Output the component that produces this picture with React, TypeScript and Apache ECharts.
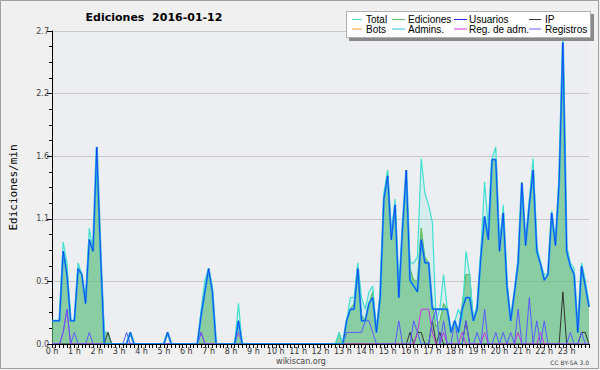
import { useEffect, useRef } from "react";
import * as echarts from "echarts";

// 10-minute steps, 145 points (0:00 .. 24:00), values in edits/min
const hourLabels = ["0 h","1 h","2 h","3 h","4 h","5 h","6 h","7 h","8 h","9 h","10 h","11 h","12 h","13 h","14 h","15 h","16 h","17 h","18 h","19 h","20 h","21 h","22 h","23 h"];

const total = [
  0.2,0.2,0.2,0.88,0.7,0.2,
  0.2,0.7,0.6,0.35,1.0,0.8,
  1.6,0.8,0.1,0.1,0,0,
  0,0,0,0,0,0,
  0,0,0,0,0,0,
  0,0,0,0,0,0,
  0,0,0,0,0.3,0.55,
  0.65,0.5,0,0,0,0,
  0,0,0.35,0,0,0,
  0,0,0,0,0,0,
  0,0,0,0,0,0,
  0,0,0,0,0,0,
  0,0,0,0,0,0.1,
  0,0.2,0.4,0.4,0.7,0.4,
  0.3,0.45,0.5,0.1,0.45,1.3,
  1.5,0.95,1.25,0.45,1.0,1.4,
  0.7,0.7,0.75,1.6,1.3,1.2,
  1.05,0.2,0.3,0.6,0.3,0.1,
  0.2,0.3,0.2,0.8,0.6,0.2,
  0.35,0.8,1.4,1.0,1.6,1.7,
  0.85,1.2,0.55,0.2,0.45,0.75,
  1.4,0.85,1.25,1.6,0.85,0.7,
  0.6,0.6,1.15,0.85,1.45,2.68,
  0.85,0.7,0.65,0.1,0.7,0.55,
  0.35,
];

const ediciones = [
  0.2,0.2,0.2,0.8,0.65,0.2,
  0.2,0.65,0.6,0.35,0.9,0.8,
  1.5,0.8,0.1,0.1,0,0,
  0,0,0,0,0,0,
  0,0,0,0,0,0,
  0,0,0,0,0,0,
  0,0,0,0,0.25,0.45,
  0.65,0.45,0,0,0,0,
  0,0,0.2,0,0,0,
  0,0,0,0,0,0,
  0,0,0,0,0,0,
  0,0,0,0,0,0,
  0,0,0,0,0,0.1,
  0,0.2,0.3,0.35,0.65,0.25,
  0.2,0.35,0.45,0.1,0.4,1.25,
  1.5,0.9,1.2,0.45,1.0,1.5,
  0.65,0.55,0.55,1.0,0.75,0.7,
  0.35,0.15,0.2,0.35,0.3,0.1,
  0.2,0.1,0.35,0.6,0.6,0.2,
  0.3,0.75,1.1,0.9,1.59,1.59,
  0.8,1.13,0.5,0.2,0.45,0.7,
  1.39,0.85,1.2,1.5,0.8,0.69,
  0.55,0.6,1.13,0.85,1.4,2.6,
  0.85,0.67,0.6,0.1,0.67,0.5,
  0.32,
];

const usuarios = [
  0.2,0.2,0.2,0.8,0.6,0.2,
  0.2,0.65,0.6,0.35,0.9,0.8,
  1.7,0.8,0,0,0,0,
  0,0,0,0.1,0,0,
  0,0,0,0,0,0,
  0,0.1,0,0,0,0,
  0,0,0,0,0.25,0.45,
  0.65,0.45,0,0,0,0,
  0,0,0.2,0,0,0,
  0,0,0,0,0,0,
  0,0,0,0,0,0,
  0,0,0,0,0,0,
  0,0,0,0,0,0,
  0,0.2,0.3,0.3,0.65,0.2,
  0.2,0.35,0.4,0.1,0.4,1.25,
  1.45,0.9,1.2,0.4,1.0,1.5,
  0.55,0.5,0.45,0.9,0.7,0.7,
  0.3,0.3,0.3,0.3,0.3,0.1,
  0.2,0.1,0.3,0.4,0.4,0.2,
  0.3,0.75,1.1,0.9,1.59,1.59,
  0.8,1.13,0.5,0.2,0.44,0.7,
  1.39,0.85,1.2,1.5,0.8,0.69,
  0.55,0.6,1.13,0.85,1.4,2.6,
  0.8,0.67,0.6,0.1,0.67,0.5,
  0.32,
];

const ip = [
  0,0,0,0,0,0,
  0,0,0,0,0,0,
  0,0,0,0.1,0,0,
  0,0,0,0,0,0,
  0,0,0,0,0,0,
  0,0,0,0,0,0,
  0,0,0,0,0,0,
  0,0,0,0,0,0,
  0,0,0,0,0,0,
  0,0,0,0,0,0,
  0,0,0,0,0,0,
  0,0,0,0,0,0,
  0,0,0,0,0,0,
  0,0,0,0,0,0,
  0,0,0,0,0,0,
  0,0,0,0,0,0,
  0.1,0,0.1,0.1,0,0,
  0.2,0,0.1,0,0,0,
  0,0,0,0.2,0,0,
  0,0,0,0,0,0,
  0,0,0,0,0,0,
  0,0,0,0,0,0,
  0,0,0,0,0,0.45,
  0,0,0,0,0.1,0.1,
  0,
];

const bots = [
  0,0,0,0,0,0, 0,0,0,0,0,0, 0,0,0,0,0,0, 0,0,0,0,0,0,
  0,0,0,0,0,0, 0,0,0,0,0,0, 0,0,0,0,0,0, 0,0,0,0,0,0,
  0,0,0,0,0,0, 0,0,0,0,0,0, 0,0,0,0,0,0, 0,0,0,0,0,0,
  0,0,0,0,0,0, 0,0,0,0,0,0, 0,0,0,0,0,0, 0,0,0,0,0,0,
  0,0,0,0,0,0, 0,0,0,0,0,0, 0,0,0,0,0,0, 0,0,0,0,0,0,
  0,0,0,0,0,0, 0,0,0,0,0,0, 0,0,0,0,0,0, 0,0,0,0,0,0,
  0,
];

const admins = [
  0,0,0,0,0,0, 0,0,0,0,0,0, 0,0,0,0,0,0, 0,0,0,0,0,0,
  0,0,0,0,0,0, 0,0,0,0,0,0, 0,0,0,0,0,0, 0,0,0,0,0,0,
  0,0,0,0,0,0, 0,0,0,0,0,0, 0,0,0,0,0,0, 0,0,0,0,0,0,
  0,0,0,0,0,0, 0,0,0,0,0,0, 0,0,0,0,0,0, 0,0,0,0,0,0,
  0,0,0,0,0,0, 0,0,0,0,0,0, 0,0,0,0,0,0, 0,0,0,0,0,0,
  0,0,0,0,0,0, 0,0,0,0,0,0, 0,0,0,0,0,0, 0,0,0,0,0,0,
  0,
];

const regAdm = [
  0,0,0,0.1,0.3,0,
  0,0,0,0,0,0,
  0,0,0,0,0,0,
  0,0,0,0,0,0,
  0,0,0,0,0,0,
  0,0,0,0,0,0,
  0,0,0,0,0.1,0,
  0,0,0,0,0,0,
  0,0,0.1,0,0,0,
  0,0,0,0,0,0,
  0,0,0,0,0,0,
  0,0,0,0,0,0,
  0,0,0,0,0,0,
  0,0,0,0,0,0,
  0,0,0,0,0,0,
  0,0,0,0,0,0,
  0,0,0.1,0.3,0.3,0.3,
  0.1,0,0,0.1,0,0,
  0,0,0.1,0,0,0,
  0,0,0.1,0,0,0,
  0,0,0,0,0,0.1,
  0,0,0,0,0,0.1,
  0,0,0,0,0,0,
  0,0,0,0,0,0,
  0,
];

const registros = [
  0,0,0,0.1,0.3,0,
  0.1,0,0,0,0.1,0,
  0,0,0,0,0,0,
  0,0,0.1,0,0,0,
  0,0,0,0,0,0,
  0,0,0,0,0,0,
  0,0,0,0,0.1,0,
  0,0,0,0,0,0,
  0,0,0,0,0,0,
  0,0,0,0,0,0,
  0,0,0,0,0,0,
  0,0,0,0,0,0,
  0,0,0,0,0,0,
  0,0.1,0.1,0.1,0.1,0.1,
  0.2,0.2,0.1,0,0,0,
  0,0,0,0.2,0,0,
  0,0.2,0.1,0,0,0,
  0.2,0.3,0,0.2,0,0,
  0.2,0,0,0.2,0,0,
  0.1,0,0.3,0,0,0.1,
  0,0.1,0,0.1,0,0.3,
  0,0,0.4,0,0.2,0,
  0.2,0,0,0,0,0,
  0,0.1,0,0,0.1,0,
  0,
];

const legendItems = [
  { name: "Total", color: "#40e0d0", col: 0, row: 0 },
  { name: "Ediciones", color: "#60c060", col: 1, row: 0 },
  { name: "Usuarios", color: "#2020ff", col: 2, row: 0 },
  { name: "IP", color: "#333333", col: 3, row: 0 },
  { name: "Bots", color: "#ff9933", col: 0, row: 1 },
  { name: "Admins.", color: "#30c0e0", col: 1, row: 1 },
  { name: "Reg. de adm.", color: "#cc33dd", col: 2, row: 1 },
  { name: "Registros", color: "#6060ff", col: 3, row: 1 },
];

const toPairs = (arr: number[]) => arr.map((v, i) => [i, v]);

export default function App() {
  const ref = useRef<HTMLDivElement>(null);

  useEffect(() => {
    if (!ref.current) return;
    const chart = echarts.init(ref.current, null, { renderer: "svg" });

    const lineX = [352, 392, 454, 529];
    const lineW = [10, 13, 13, 12];
    const textX = [366, 408, 469, 545];
    const rowY = [19.5, 29];

    const legendGraphics: any[] = [
      { type: "rect", shape: { x: 349, y: 14, width: 245, height: 27 }, style: { fill: "#8a8a8a" }, z: 100 },
      { type: "rect", shape: { x: 346.5, y: 11.5, width: 244, height: 26 }, style: { fill: "#ffffff", stroke: "#b0b0b0", lineWidth: 1 }, z: 101 },
    ];
    legendItems.forEach((it) => {
      const y = rowY[it.row];
      legendGraphics.push({
        type: "line",
        shape: { x1: lineX[it.col], y1: y, x2: lineX[it.col] + lineW[it.col], y2: y },
        style: { stroke: it.color, lineWidth: 1 },
        z: 102,
      });
      legendGraphics.push({
        type: "text",
        x: textX[it.col],
        y,
        style: { text: it.name, fill: "#000", font: "10px 'Liberation Sans', Arial, sans-serif", verticalAlign: "middle", align: "left" },
        z: 102,
      });
    });

    const mkLine = (name: string, data: number[], color: string, width: number, area?: string, z = 2) => ({
      name,
      type: "line",
      data: toPairs(data),
      showSymbol: false,
      symbol: "none",
      z,
      lineStyle: { color, width },
      itemStyle: { color },
      areaStyle: area ? { color: area, opacity: 1 } : undefined,
      emphasis: { disabled: true },
    });

    chart.setOption({
      animation: false,
      backgroundColor: "#f0f0f0",
      grid: {
        left: 46,
        right: 11,
        top: 31,
        bottom: 26,
        show: true,
        backgroundColor: "#eceef1",
        borderWidth: 0,
      },
      xAxis: {
        type: "value",
        min: 0,
        max: 144,
        interval: 6,
        z: 10,
        axisLine: { show: true, lineStyle: { color: "#000", width: 1 } },
        axisTick: { show: true, length: 4, lineStyle: { color: "#000" } },
        minorTick: { show: true, splitNumber: 6, length: 4, lineStyle: { color: "#000" } },
        splitLine: { show: false },
        axisLabel: {
          margin: 3,
          fontSize: 8,
          fontFamily: "DejaVu Sans",
          color: "#333",
          formatter: (v: number) => hourLabels[v / 6] ?? "",
        },
      },
      yAxis: {
        type: "value",
        min: 0,
        max: 2.7,
        interval: 0.54,
        name: "Ediciones/min",
        nameLocation: "middle",
        nameGap: 33,
        nameRotate: 90,
        nameTextStyle: { fontFamily: "DejaVu Sans Mono", fontSize: 11, color: "#000" },
        axisLine: { show: true, lineStyle: { color: "#000", width: 1 } },
        axisTick: { show: true, length: 5, lineStyle: { color: "#000" } },
        minorTick: { show: true, splitNumber: 4, length: 3, lineStyle: { color: "#000" } },
        splitLine: { show: true, lineStyle: { color: "#c8c8c8", width: 1 } },
        axisLabel: {
          margin: 3,
          fontSize: 8,
          fontFamily: "DejaVu Sans",
          color: "#444",
          formatter: (v: number) => v.toFixed(1),
        },
      },
      series: [
        mkLine("Ediciones", ediciones, "#50b850", 1, "rgba(90,180,100,0.6)"),
        mkLine("Total", total, "#40e0d0", 1.2, "rgba(64,224,208,0.12)"),
        mkLine("Bots", bots, "#ff9933", 1),
        mkLine("Admins.", admins, "#30c0e0", 1),
        mkLine("IP", ip, "#333333", 1),
        mkLine("Reg. de adm.", regAdm, "#cc33dd", 1),
        mkLine("Registros", registros, "#5a5aff", 1),
        mkLine("Usuarios-halo", usuarios, "#2ab6dc", 2.2),
        mkLine("Usuarios", usuarios, "#1030ff", 0.8),
      ],
      graphic: [
        { type: "rect", shape: { x: 0.5, y: 0.5, width: 598, height: 368 }, style: { fill: "none", stroke: "#a0a0a0", lineWidth: 1 }, z: 50 },
        {
          type: "text",
          x: 154,
          y: 17,
          style: { text: "Ediciones  2016-01-12", fill: "#000", font: "bold 11px 'DejaVu Sans', sans-serif", align: "center", verticalAlign: "middle" },
          z: 50,
        },
        {
          type: "text",
          x: 301,
          y: 361.5,
          style: { text: "wikiscan.org", fill: "#444", font: "8px 'DejaVu Sans', sans-serif", align: "center", verticalAlign: "middle" },
          z: 50,
        },
        {
          type: "text",
          x: 589,
          y: 362.5,
          style: { text: "CC BY-SA 3.0", fill: "#444", font: "6px 'DejaVu Sans', sans-serif", align: "right", verticalAlign: "middle" },
          z: 50,
        },
        ...legendGraphics,
      ],
    });

    return () => chart.dispose();
  }, []);

  return (
    <div
      ref={ref}
      style={{ position: "fixed", left: 0, top: 0, width: 600, height: 370 }}
    />
  );
}
